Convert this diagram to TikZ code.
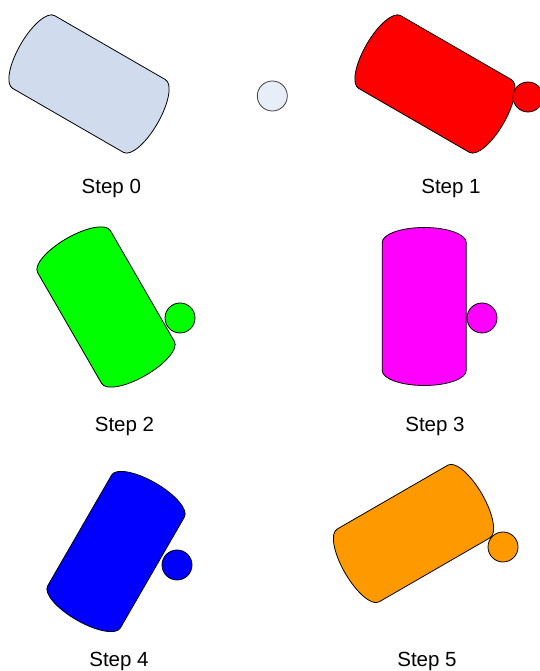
\documentclass[tikz,border=0pt]{standalone}
\usepackage{fontspec}
\setmainfont{Liberation Sans}
\definecolor{steelfill}{RGB}{208,220,237}
\definecolor{ballfill}{RGB}{232,238,248}
\definecolor{ballline}{RGB}{60,60,60}
\definecolor{orangefill}{RGB}{255,153,0}
\definecolor{redfill}{RGB}{255,0,0}
\definecolor{greenfill}{RGB}{0,255,0}
\definecolor{magentafill}{RGB}{255,0,255}
\definecolor{bluefill}{RGB}{0,0,255}
\tikzset{
  barrel/.pic={
    \draw[pic actions] (-42,64) -- (-42,-64)
      arc[start angle=180, end angle=360, x radius=42, y radius=15]
      -- (42,64)
      arc[start angle=0, end angle=180, x radius=42, y radius=15] -- cycle;
  },
  body/.style={draw=black, line width=0.8pt, line join=round},
  ball/.style={circle, draw=black, line width=0.8pt, minimum size=30pt, inner sep=0pt},
  steplabel/.style={anchor=base, font=\fontsize{20.5}{24}\selectfont, inner sep=0pt}
}
\begin{document}
\begin{tikzpicture}[x=1pt,y=1pt]
\useasboundingbox (0,0) rectangle (540,671);
% Step 0
\pic[body, fill=steelfill, rotate=60] at (89,587) {barrel};
\node[ball, fill=ballfill, draw=ballline] (b0) at (272.3,575) {};
\node[steplabel] (l0) at (111.3,477.5) {Step 0};
% Step 1
\pic[body, fill=redfill, rotate=60] at (435,587) {barrel};
\node[ball, fill=redfill] (b1) at (528,574) {};
\node[steplabel] (l1) at (451,477.5) {Step 1};
% Step 2
\pic[body, fill=greenfill, rotate=30] at (106,364) {barrel};
\node[ball, fill=greenfill] (b2) at (180,353) {};
\node[steplabel] (l2) at (124.5,239.5) {Step 2};
% Step 3
\pic[body, fill=magentafill] at (424.2,364.5) {barrel};
\node[ball, fill=magentafill] (b3) at (482,353) {};
\node[steplabel] (l3) at (435,239.5) {Step 3};
% Step 4
\pic[body, fill=bluefill, rotate=-30] at (116,119.5) {barrel};
\node[ball, fill=bluefill] (b4) at (177,106) {};
\node[steplabel] (l4) at (119,4.5) {Step 4};
% Step 5
\pic[body, fill=orangefill, rotate=-60] at (413.5,137.5) {barrel};
\node[ball, fill=orangefill] (b5) at (503,124) {};
\node[steplabel] (l5) at (427,4.5) {Step 5};
\end{tikzpicture}
\end{document}
